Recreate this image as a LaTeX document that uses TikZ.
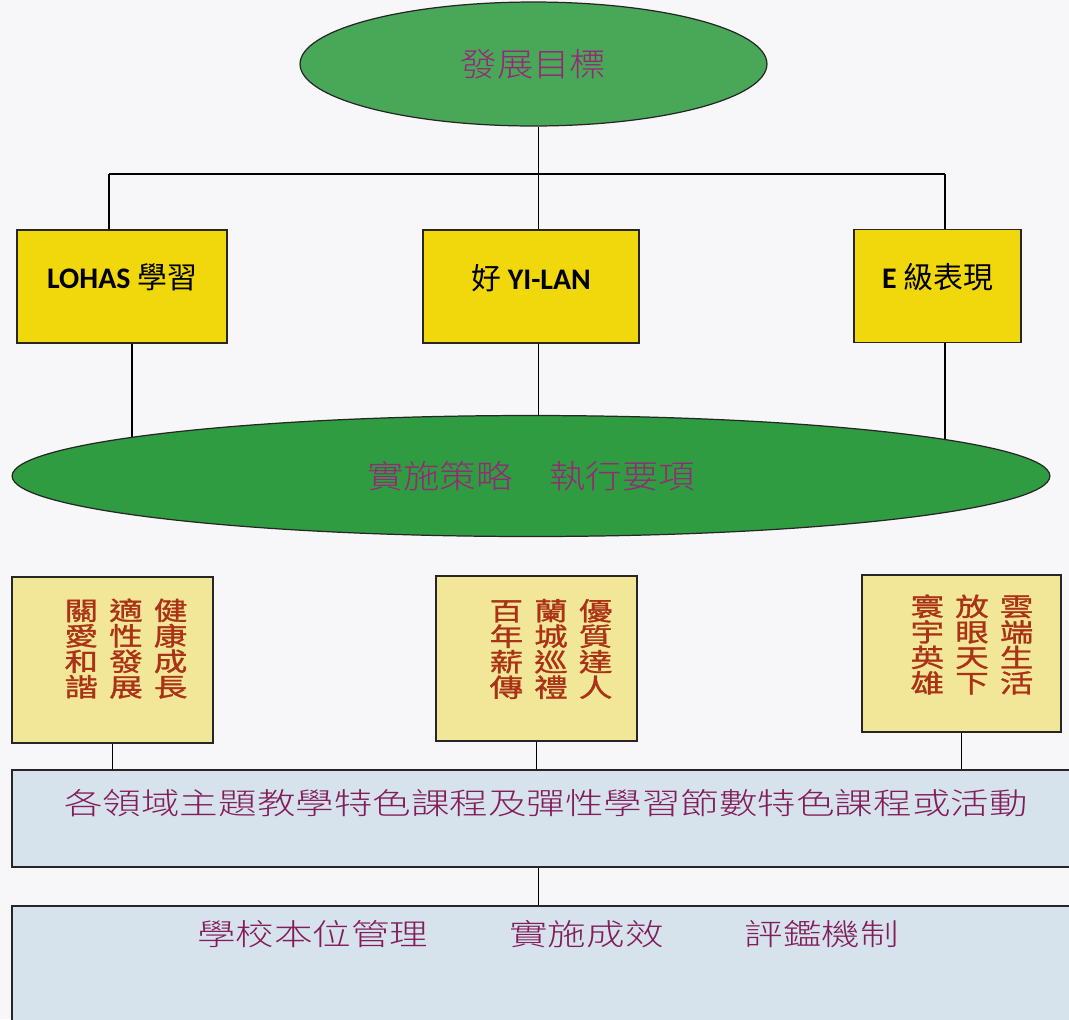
\documentclass[tikz,border=0pt]{standalone}
\usepackage{fontspec}
\setsansfont{Carlito}
\newfontfamily\cjkgoal[FakeStretch=1.12]{Noto Sans CJK TC Light}
\newfontfamily\cjkcourse[FakeStretch=1.29]{Noto Sans CJK TC Light}
\newfontfamily\cjkmotto[FakeStretch=1.32,FakeBold=1.2]{Noto Sans CJK TC}
\newfontfamily\cjkaim{Noto Sans CJK TC}
\usetikzlibrary{shapes.geometric,backgrounds}

\definecolor{paper}{RGB}{247,247,249}
\definecolor{goalgreen}{RGB}{72,168,88}
\definecolor{planegreen}{RGB}{48,156,66}
\definecolor{goalink}{RGB}{150,40,120}
\definecolor{aimyellow}{RGB}{240,216,12}
\definecolor{mottoyellow}{RGB}{242,230,152}
\definecolor{mottoink}{RGB}{170,50,22}
\definecolor{courseblue}{RGB}{214,227,236}
\definecolor{courseink}{RGB}{130,28,90}

\newcommand{\engtxt}[1]{{\sffamily\bfseries #1}}
\newcommand{\mottorow}[3]{#1\hspace{0.22cm}#2\hspace{0.22cm}#3}

\tikzset{
  goalell/.style={ellipse,draw=black!85,line width=0.7pt,inner sep=0pt,
    text=goalink,font=\cjkgoal\fontsize{18.5}{22}\selectfont},
  aimbox/.style={rectangle,draw=black!85,line width=1pt,fill=aimyellow,
    minimum height=2.26cm,text depth=0.4cm,font=\cjkaim\fontsize{17}{20}\selectfont},
  mottobox/.style={rectangle,draw=black!85,line width=1pt,fill=mottoyellow},
  mottotext/.style={anchor=north,inner sep=0pt,align=center,text=mottoink,
    font=\cjkmotto\fontsize{14.5}{14.5}\selectfont},
  coursebox/.style={rectangle,draw=black!85,line width=1pt,fill=courseblue,
    minimum width=21.36cm},
  coursetext/.style={inner sep=0pt,text=courseink,
    font=\cjkcourse\fontsize{17}{20}\selectfont},
  link/.style={draw=black,line width=0.8pt}
}

\begin{document}
\begin{tikzpicture}[x=0.02cm,y=-0.02cm]
    \clip (0,0) rectangle (1069,1019);

    % goal and the three aims
    \node[goalell,fill=goalgreen,minimum width=9.34cm,minimum height=2.48cm] (goal) at (533.5,64) {發展目標};
    \node[aimbox,minimum width=4.2cm] (lohas) at (122,286.5) {\engtxt{LOHAS} 學習};
    \node[aimbox,minimum width=4.32cm] (yilan) at (531,286.5) {好 \engtxt{YI-LAN}};
    \node[aimbox,minimum width=3.34cm] (elevel) at (937.5,286) {\engtxt{E} 級表現};

    \node[goalell,fill=planegreen,minimum width=20.76cm,minimum height=2.42cm] (strategy) at (531,476) {實施策略　執行要項};

    % mottos
    \node[mottobox,minimum width=4.02cm,minimum height=3.32cm] (healthy) at (112.5,660) {};
    \node[mottobox,minimum width=4.02cm,minimum height=3.3cm] (quality) at (536.5,658.5) {};
    \node[mottobox,minimum width=3.98cm,minimum height=3.14cm] (cloud) at (961.5,653.5) {};
    \node[mottotext] (healthyT) at ([xshift=0.27cm,yshift=-0.44cm]healthy.north) {\mottorow{關}{適}{健}\\\mottorow{愛}{性}{康}\\\mottorow{和}{發}{成}\\\mottorow{諧}{展}{長}};
    \node[mottotext] (qualityT) at ([xshift=0.29cm,yshift=-0.47cm]quality.north) {\mottorow{百}{蘭}{優}\\\mottorow{年}{城}{質}\\\mottorow{薪}{巡}{達}\\\mottorow{傳}{禮}{人}};
    \node[mottotext] (cloudT) at ([xshift=0.21cm,yshift=-0.4cm]cloud.north) {\mottorow{寰}{放}{雲}\\\mottorow{宇}{眼}{端}\\\mottorow{英}{天}{生}\\\mottorow{雄}{下}{活}};

    % courses and school management
    \node[coursebox,minimum height=1.94cm] (course) at (546,818.5) {};
    \node[coursetext] (courseT) at ([yshift=-0.68cm]course.north) {各領域主題教學特色課程及彈性學習節數特色課程或活動};
    \node[coursebox,minimum height=3.36cm] (school) at (546,990) {};
    \node[coursetext] (schoolT) at ([xshift=0.04cm,yshift=-0.58cm]school.north) {學校本位管理\hspace{1.62cm}實施成效\hspace{1.62cm}評鑑機制};

    \coordinate (busL) at (109,174);
    \coordinate (busM) at (538.5,174);
    \coordinate (busR) at (945,174);

    \begin{scope}[on background layer]
    \fill[paper] (0,0) rectangle (1069,1019);
    \draw[link] (busM |- goal.south) to (busM);
    \draw[link] (busL) to (busR);
    \draw[link] (busL) to (busL |- lohas.north);
    \draw[link] (busM) to (busM |- yilan.north);
    \draw[link] (busR) to (busR |- elevel.north);
    \draw[link] ([xshift=0.2cm]lohas.south) to ([xshift=0.2cm]lohas.south |- strategy.center);
    \draw[link] (busM |- yilan.south) to (busM |- strategy.center);
    \draw[link] (busR |- elevel.south) to (busR |- strategy.center);
    \draw[link] (healthy.south) to (healthy.south |- course.north);
    \draw[link] (quality.south) to (quality.south |- course.north);
    \draw[link] (cloud.south) to (cloud.south |- course.north);
    \draw[link] (busM |- course.south) to (busM |- school.north);
    \end{scope}
\end{tikzpicture}
\end{document}
